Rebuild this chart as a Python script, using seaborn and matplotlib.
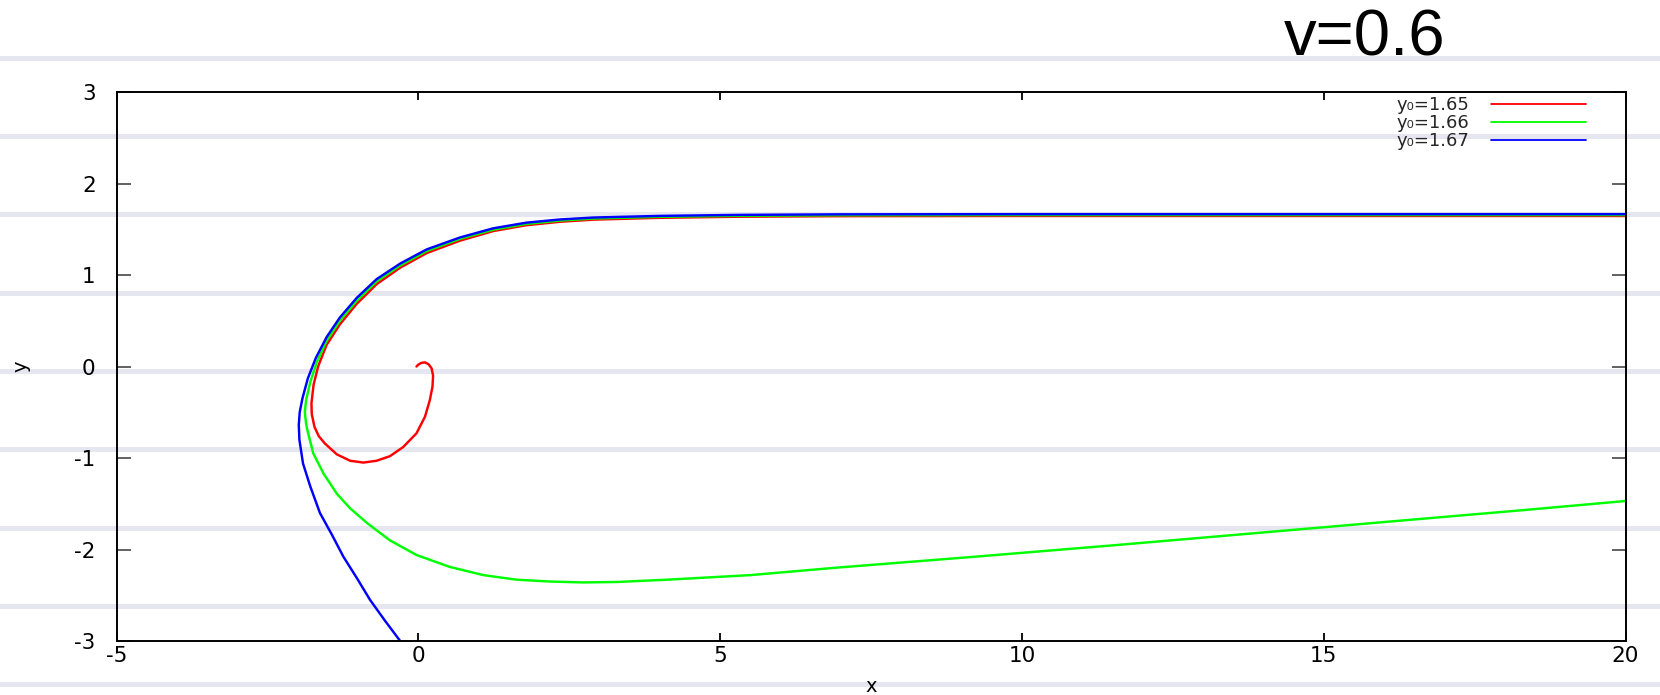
import numpy as np
import pandas as pd
import matplotlib
matplotlib.use("Agg")
import matplotlib.pyplot as plt
import seaborn as sns

# ---- data ----
x_red = [20, 10, 7, 5.33, 4.0, 2.9, 2.35, 1.79, 1.24, 0.69, 0.14, -0.30, -0.69, -1.02, -1.30,
         -1.52, -1.66, -1.735, -1.77, -1.765, -1.72, -1.65, -1.55, -1.35, -1.13, -0.91, -0.69,
         -0.47, -0.25, -0.03, 0.11, 0.19, 0.235, 0.245, 0.22, 0.17, 0.11, 0.05, 0.0, -0.03]
y_red = [1.645, 1.645, 1.643, 1.637, 1.625, 1.605, 1.582, 1.544, 1.48, 1.375, 1.24, 1.08, 0.90,
         0.685, 0.46, 0.235, 0.0, -0.20, -0.40, -0.52, -0.66, -0.76, -0.84, -0.96, -1.03, -1.05,
         -1.03, -0.98, -0.88, -0.73, -0.55, -0.37, -0.22, -0.10, -0.02, 0.025, 0.045, 0.04,
         0.02, 0.0]

x_green = [20, 10, 7, 5.33, 4.0, 2.9, 2.35, 1.79, 1.24, 0.69, 0.14, -0.30, -0.69, -1.02, -1.30,
           -1.52, -1.68, -1.79, -1.86, -1.88, -1.86, -1.84, -1.74, -1.57, -1.35, -1.13, -0.85,
           -0.47, -0.03, 0.52, 1.08, 1.63, 2.18, 2.73, 3.29, 4.12, 5.5, 6.9, 9.2, 11.5, 13.8,
           16.0, 18.3, 20]
y_green = [1.655, 1.655, 1.653, 1.647, 1.636, 1.617, 1.595, 1.558, 1.495, 1.395, 1.262, 1.105,
           0.93, 0.72, 0.50, 0.28, 0.05, -0.17, -0.37, -0.50, -0.62, -0.69, -0.95, -1.17, -1.39,
           -1.55, -1.71, -1.90, -2.06, -2.19, -2.28, -2.33, -2.35, -2.36, -2.355, -2.33, -2.28,
           -2.20, -2.08, -1.955, -1.825, -1.70, -1.57, -1.47]

x_blue = [20, 10, 7, 5.33, 4.0, 2.9, 2.35, 1.79, 1.24, 0.69, 0.14, -0.30, -0.69, -1.02, -1.30,
          -1.52, -1.70, -1.83, -1.92, -1.965, -1.98, -1.97, -1.91, -1.79, -1.63, -1.43, -1.24,
          -1.02, -0.80, -0.55, -0.30]
y_blue = [1.665, 1.665, 1.663, 1.657, 1.646, 1.628, 1.607, 1.572, 1.51, 1.41, 1.28, 1.125,
          0.955, 0.75, 0.535, 0.32, 0.09, -0.13, -0.35, -0.50, -0.64, -0.80, -1.06, -1.31,
          -1.60, -1.84, -2.08, -2.31, -2.55, -2.78, -3.0]

y0_values = ["1.65", "1.66", "1.67"]
x_ticks = [-5, 0, 5, 10, 15, 20]
y_ticks = [-3, -2, -1, 0, 1, 2, 3]
title_text = "v=0.6"

# ---- style ----
sns.set_theme(style="white")
plt.rcParams['font.family'] = ['DejaVu Sans']
plt.rcParams['axes.unicode_minus'] = False

W, H = 1660, 695
fig = plt.figure(figsize=(W / 100, H / 100), dpi=100)
fig.patch.set_facecolor('white')

# background with horizontal lavender bands across the whole figure
bg = fig.add_axes([0, 0, 1, 1], zorder=0)
bg.set_xlim(0, 1)
bg.set_ylim(H, 0)
bg.set_yticks(np.arange(57.8, H, 78.3))
bg.grid(axis='y', color='#E6E6F0', lw=3.6)
bg.grid(axis='x', visible=False)
bg.tick_params(left=False, bottom=False, labelleft=False, labelbottom=False)
for s in bg.spines.values():
    s.set_visible(False)
bg.set_facecolor('white')

# inner plot
left, right, top, bottom = 116.5, 1625.5, 92, 641
ax = fig.add_axes([left / W, (H - bottom) / H, (right - left) / W, (bottom - top) / H], zorder=1)
ax.patch.set_alpha(0)

series = [(x_red, y_red, '#ff0000'), (x_green, y_green, '#00ff00'), (x_blue, y_blue, '#0000ff')]
for (xs, ys, col), lab in zip(series, y0_values):
    df = pd.DataFrame({'x': xs, 'y': ys})
    sns.lineplot(data=df, x='x', y='y', sort=False, estimator=None, color=col, lw=1.75,
                 label="y\u2080=" + lab, ax=ax, solid_joinstyle='round',
                 solid_capstyle='round')

ax.set_xlim(-5, 20)
ax.set_ylim(-3, 3)
ax.set_xticks(x_ticks)
ax.set_yticks(y_ticks)
ax.set_xticklabels([str(t) for t in x_ticks])
ax.set_yticklabels([str(t) for t in y_ticks])
ax.tick_params(axis='x', direction='in', length=6, width=1.3, color='black',
               top=True, bottom=True, pad=3.5, labelsize=15.5, labelcolor='black')
ax.tick_params(axis='y', direction='in', length=10, width=1.3, color='#555555',
               left=True, right=True, pad=15, labelsize=15.5, labelcolor='black')
for s in ax.spines.values():
    s.set_visible(True)
    s.set_color('black')
    s.set_linewidth(1.4)

ax.set_xlabel('x', fontsize=14, color='black')
ax.set_ylabel('y', fontsize=14, color='black')
ax.xaxis.set_label_coords(0.5, -0.066)
ax.yaxis.set_label_coords(-0.057, 0.5)

leg = ax.legend(loc='upper right', bbox_to_anchor=(0.974, 0.993), markerfirst=False,
                frameon=False, fontsize=13, handlelength=5.3, handletextpad=1.2,
                labelspacing=0.0, borderaxespad=0, borderpad=0)
for t in leg.get_texts():
    t.set_ha('right')
for l in leg.get_lines():
    l.set_linewidth(1.3)

fig.text(1365 / W, 1 - 55 / H, title_text, ha='center', va='baseline', fontsize=47,
         family='Liberation Sans', color='black')

fig.savefig('out.png', dpi=100, facecolor='white')
